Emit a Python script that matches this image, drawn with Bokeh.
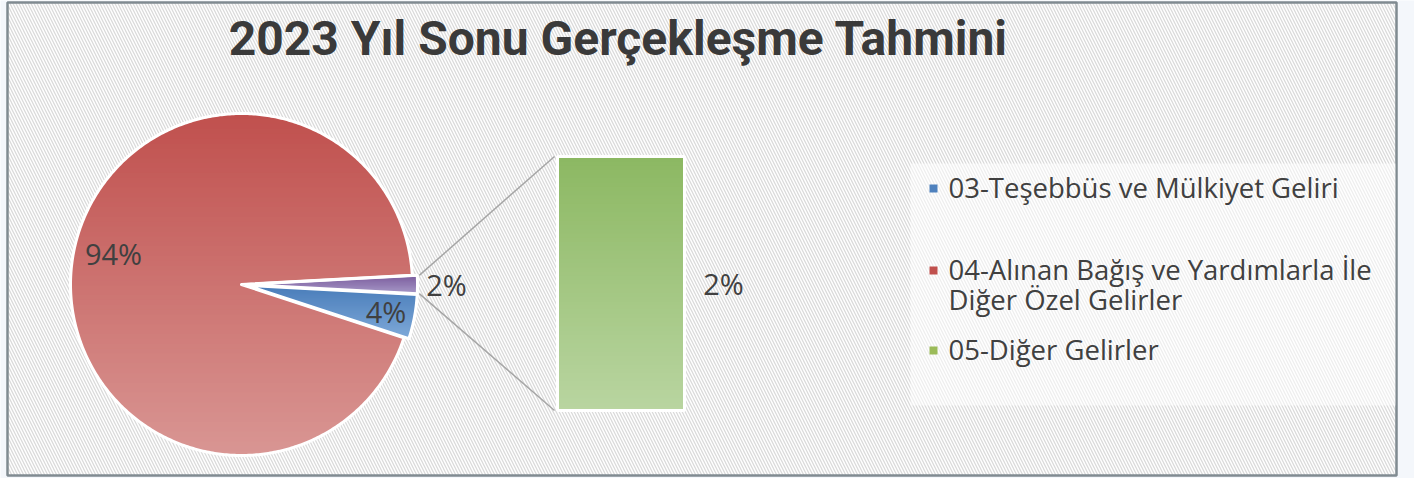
import numpy as np
from bokeh.plotting import figure
from bokeh.models import Range1d
from bokeh.core.properties import value
from bokeh.embed import file_html
from bokeh.resources import INLINE

# ---------------- data ----------------
title_text = "2023 Yıl Sonu Gerçekleşme Tahmini"
categories = ["03-Teşebbüs ve Mülkiyet Geliri",
              "04-Alınan Bağış ve Yardımlarla İle Diğer Özel Gelirler",
              "05-Diğer Gelirler"]
shares = [4.2, 94.1, 1.7]            # percent of total
in_bar = [False, False, True]        # split off into the secondary bar

# ---------------- styles ----------------
top_col = {"03": "#4a7dba", "04": "#c0504d", "05": "#8cb862", "other": "#7c5f9f"}
bot_col = {"03": "#80aad9", "04": "#d99694", "05": "#b9d5a1", "other": "#a99bc9"}
legend_col = {"03": "#4f81bd", "04": "#c0504d", "05": "#9bbb59"}
text_col = "#404040"
FONT = "Open Sans"

W, H = 1414, 478
ky = 1.0

def Y(ry):               # reference-pixel y  -> data y
    return 478.0 - ry

p = figure(width=W, height=H, output_backend="svg", toolbar_location=None,
           x_range=Range1d(0, W), y_range=Range1d(0, H),
           min_border=0, outline_line_color=None,
           background_fill_color="#f4f7fb", border_fill_color="#f4f7fb")
p.axis.visible = False
p.grid.visible = False

# chart area with diagonal hatch + border
p.quad(left=[7], right=[1396], bottom=[Y(475)], top=[Y(2)],
       fill_color="white", hatch_pattern="\\", hatch_color="#dadada",
       hatch_scale=6, hatch_weight=1.3,
       line_color="#808b91", line_width=2.5)

# semi-transparent legend box
p.quad(left=[910], right=[1395], bottom=[Y(405)], top=[Y(163)],
       fill_color="white", fill_alpha=0.55, line_color=None)

def lerp(c0, c1, t):
    a = [int(c0[i:i + 2], 16) for i in (1, 3, 5)]
    b = [int(c1[i:i + 2], 16) for i in (1, 3, 5)]
    return "#%02x%02x%02x" % tuple(int(round(a[k] + (b[k] - a[k]) * t)) for k in range(3))

def clip(pts, ylo, yhi):
    def pas(pts, keep, yv):
        out = []
        n = len(pts)
        for i in range(n):
            cur, prev = pts[i], pts[i - 1]
            ci, pi = keep(cur), keep(prev)
            if ci != pi:
                t = (yv - prev[1]) / (cur[1] - prev[1])
                out.append((prev[0] + t * (cur[0] - prev[0]), yv))
            if ci:
                out.append(cur)
        return out
    pts = pas(pts, lambda q: q[1] >= ylo, ylo)
    if len(pts) < 3:
        return []
    pts = pas(pts, lambda q: q[1] <= yhi, yhi)
    return pts if len(pts) >= 3 else []

def gradient_patches(pts, c_top, c_bot, nb=70):
    ys = [q[1] for q in pts]
    lo, hi = min(ys), max(ys)
    step = (hi - lo) / nb
    bx, by, bc = [], [], []
    for i in range(nb):
        y0 = lo + i * step
        y1 = y0 + step
        poly = clip(pts, y0 - 0.7, y1 + 0.7)
        if not poly:
            continue
        t = 1 - ((y0 + y1) / 2 - lo) / (hi - lo)
        bx.append([q[0] for q in poly])
        by.append([q[1] for q in poly])
        bc.append(lerp(c_top, c_bot, t))
    p.patches(bx, by, fill_color=bc, line_color=None)

# ---------------- pie ----------------
CX, CY = 241.0, Y(284)
R = 171.0
EXPLODE = {"03": 5.0, "04": 0.0, "other": 5.0}
LABEL_R = {"03": 0.83, "04": 0.77, "other": 1.17}
LABEL_DA = {"03": 0.0, "04": -6.0, "other": 0.0}

total = float(sum(shares))
other = sum(s for s, b in zip(shares, in_bar) if b)
h = np.pi * other / total
keys = [c[:2] for c in categories]

slices = [("other", -h, h, other)]
cursor = -h
for k, s, b in zip(keys, shares, in_bar):
    if b:
        continue
    a1 = cursor
    a0 = cursor - 2 * np.pi * s / total
    slices.append((k, a0, a1, s))
    cursor = a0

outline_x, outline_y = [], []
corners = None
for k, a0, a1, s in slices:
    mid = (a0 + a1) / 2
    e = EXPLODE[k]
    cx = CX + e * np.cos(mid)
    cy = CY + e * np.sin(mid) * ky
    n = max(6, int(np.degrees(a1 - a0) * 1.5))
    ang = np.linspace(a0, a1, n)
    pts = [(cx, cy)] + [(cx + R * np.cos(a), cy + R * np.sin(a) * ky) for a in ang]
    gradient_patches(pts, top_col[k], bot_col[k])
    outline_x.append([q[0] for q in pts])
    outline_y.append([q[1] for q in pts])
    if k == "other":
        corners = (pts[-1], pts[1])    # upper, lower outer corners
    la = mid + np.radians(LABEL_DA[k])
    lr = R * LABEL_R[k]
    p.text(x=[cx + lr * np.cos(la)], y=[cy + lr * np.sin(la) * ky],
           text=["%d%%" % round(s)], text_font=value(FONT),
           text_font_size="29px", text_color=text_col,
           text_align="center", text_baseline="middle")

p.patches(outline_x, outline_y, fill_color=None, line_color="white",
          line_width=3, line_join="round")

# ---------------- secondary bar ----------------
BX0, BX1 = 557.0, 684.0
BTOP, BBOT = Y(156), Y(410)
cum = 0.0
for k, s, b in zip(keys, shares, in_bar):
    if not b:
        continue
    y0 = BBOT + (BTOP - BBOT) * cum / other
    cum += s
    y1 = BBOT + (BTOP - BBOT) * cum / other
    pts = [(BX0, y0), (BX1, y0), (BX1, y1), (BX0, y1)]
    gradient_patches(pts, top_col[k], bot_col[k], nb=60)
    p.quad(left=[BX0], right=[BX1], bottom=[y0], top=[y1],
           fill_color=None, line_color="white", line_width=3)
    p.text(x=[BX1 + 39], y=[(y0 + y1) / 2], text=["%d%%" % round(s)],
           text_font=value(FONT), text_font_size="29px", text_color=text_col,
           text_align="center", text_baseline="middle")

# connector lines
(ux, uy), (lx, ly) = corners
p.segment(x0=[ux + 2, lx + 2], y0=[uy, ly], x1=[BX0 - 3, BX0 - 3], y1=[BTOP, BBOT],
          line_color="#a6a6a6", line_width=1.5)

# ---------------- title ----------------
p.text(x=[618], y=[Y(38)], text=[title_text], text_font=value("Roboto"),
       text_font_style="bold", text_font_size="48px", text_color="#3a3a3a",
       text_align="center", text_baseline="middle")

# ---------------- legend ----------------
LEG_Y = [187, 269, 349]
LINE_H = 30
WRAP = 36
for k, cat, ly_ in zip(keys, categories, LEG_Y):
    words = cat.split(" ")
    lines, cur = [], ""
    for w in words:
        if cur and len(cur) + 1 + len(w) > WRAP:
            lines.append(cur)
            cur = w
        else:
            cur = (cur + " " + w).strip()
    lines.append(cur)
    p.rect(x=[933], y=[Y(ly_ + 1)], width=8, height=8 * ky,
           fill_color=legend_col[k], line_color=None)
    p.text(x=[948] * len(lines), y=[Y(ly_ + i * LINE_H) for i in range(len(lines))],
           text=lines, text_font=value(FONT), text_font_size="27.5px",
           text_color=text_col, text_align="left", text_baseline="middle")

open("out.html", "w").write(file_html(p, INLINE))
